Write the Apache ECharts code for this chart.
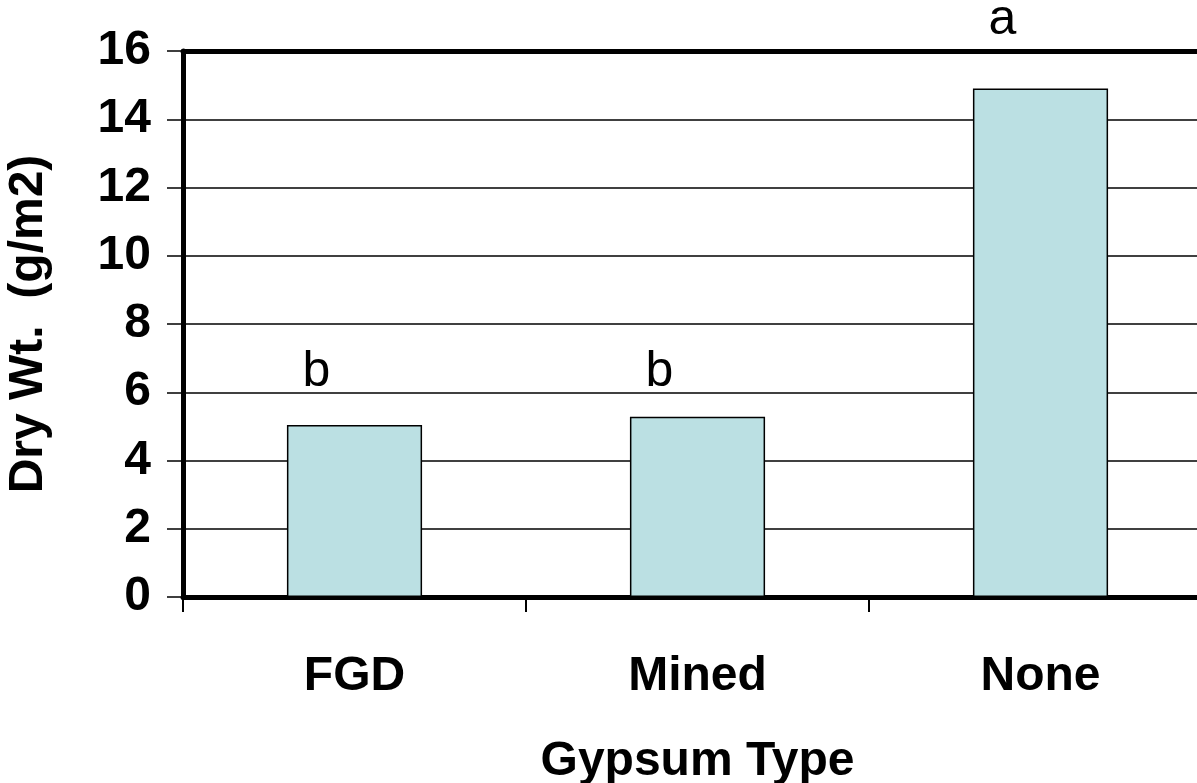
<!DOCTYPE html>
<html>
<head>
<meta charset="utf-8">
<script src="https://cdn.jsdelivr.net/npm/echarts@6/dist/echarts.min.js"></script>
<style>
html,body{margin:0;padding:0;background:#fff;overflow:hidden;}
#c{width:1197px;height:783px;}
</style>
</head>
<body>
<div id="c"></div>
<script>
var categories = ['FGD', 'Mined', 'None'];
var dryWeight = [5.04, 5.28, 14.9];
var letters = ['b', 'b', 'a'];
var letterY = [6.6, 6.6, 16.9];
var yTicks = [0, 2, 4, 6, 8, 10, 12, 14, 16];
var yAxisTitle = 'Dry Wt.  (g/m2)';
var xAxisTitle = 'Gypsum Type';

var FONT = '"Liberation Sans", Arial, sans-serif';
var chart = echarts.init(document.getElementById('c'));
chart.setOption({
  animation: false,
  backgroundColor: '#fff',
  grid: { left: 183, top: 51, bottom: 186, right: -15, containLabel: false, outerBoundsMode: 'none' },
  xAxis: [{
    type: 'category',
    data: categories,
    position: 'bottom',
    boundaryGap: true,
    axisLine: { lineStyle: { color: '#000', width: 5 } },
    axisTick: { show: true, length: 15, lineStyle: { color: '#000', width: 2 } },
    axisLabel: { color: '#000', fontFamily: FONT, fontWeight: 'bold', fontSize: 48, margin: 56 },
    name: xAxisTitle,
    nameLocation: 'middle',
    nameGap: 141,
    nameTextStyle: { color: '#000', fontFamily: FONT, fontWeight: 'bold', fontSize: 48 },
    splitLine: { show: false }
  }, {
    type: 'category',
    data: categories,
    position: 'top',
    axisLine: { lineStyle: { color: '#000', width: 5 } },
    axisTick: { show: false },
    axisLabel: { show: false },
    splitLine: { show: false }
  }],
  yAxis: {
    type: 'value',
    min: yTicks[0],
    max: yTicks[yTicks.length - 1],
    interval: yTicks[1] - yTicks[0],
    axisLine: { show: true, lineStyle: { color: '#000', width: 5 } },
    axisTick: { show: true, length: 16, lineStyle: { color: '#000', width: 1.5 } },
    axisLabel: { color: '#000', fontFamily: FONT, fontWeight: 'bold', fontSize: 48, margin: 32 },
    splitLine: { show: true, lineStyle: { color: '#000', width: 1.5 } },
    name: yAxisTitle,
    nameLocation: 'middle',
    nameGap: 130,
    nameTextStyle: { color: '#000', fontFamily: FONT, fontWeight: 'bold', fontSize: 48 }
  },
  series: [{
    type: 'bar',
    data: dryWeight,
    barWidth: '39.4%',
    itemStyle: { color: '#BBE0E3', borderColor: '#000', borderWidth: 1.5 },
    z: 3
  }, {
    type: 'scatter',
    data: letters.map(function (l, i) { return [i, letterY[i]]; }),
    symbolSize: 0,
    clip: false,
    silent: true,
    itemStyle: { opacity: 1, color: 'transparent' },
    label: {
      show: true,
      position: 'inside',
      offset: [-38, 0],
      formatter: function (p) { return letters[p.dataIndex]; },
      color: '#000',
      opacity: 1,
      textBorderWidth: 0,
      fontFamily: FONT,
      fontSize: 50,
      fontWeight: 'normal'
    },
    z: 5
  }]
});
</script>
</body>
</html>
